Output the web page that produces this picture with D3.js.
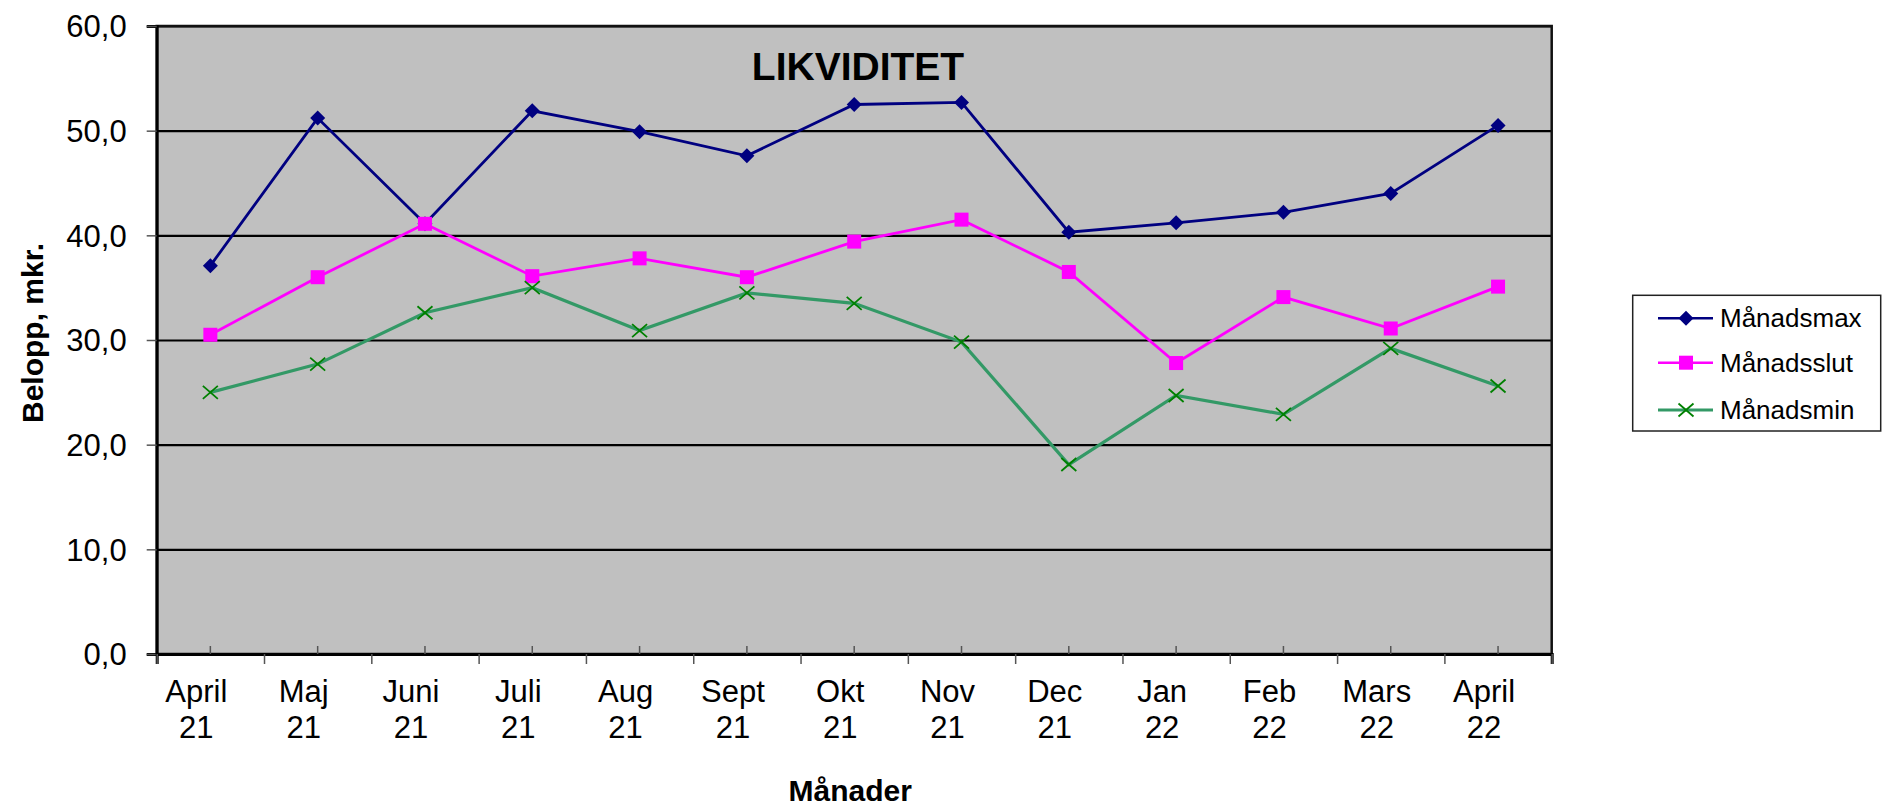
<!DOCTYPE html>
<html>
<head>
<meta charset="utf-8">
<script src="https://cdn.jsdelivr.net/npm/d3@7"></script>
<style>
  body { margin: 0; background: #fff; }
  svg { display: block; font-family: "Liberation Sans", Arial, sans-serif; }
  .tick-label { font-size: 31px; fill: #000; }
  .axis-title { font-size: 30px; font-weight: bold; fill: #000; }
  .legend-text { font-size: 26px; fill: #000; }
</style>
</head>
<body>
<svg id="chart"></svg>
<script>
// Data
const months = ['April 21', 'Maj 21', 'Juni 21', 'Juli 21', 'Aug 21', 'Sept 21', 'Okt 21',
  'Nov 21', 'Dec 21', 'Jan 22', 'Feb 22', 'Mars 22', 'April 22'];
const manadsmax = [37.1, 51.2, 41.1, 51.9, 49.9, 47.6, 52.5, 52.7, 40.3, 41.2, 42.2, 44.0, 50.5];
const manadsslut = [30.5, 36.0, 41.1, 36.1, 37.8, 36.0, 39.4, 41.5, 36.5, 27.8, 34.1, 31.1, 35.1];
const manadsmin = [25.0, 27.7, 32.6, 35.0, 30.9, 34.5, 33.5, 29.8, 18.1, 24.7, 22.9, 29.2, 25.6];
const yTicks = [0, 10, 20, 30, 40, 50, 60];

const series = [
  { name: 'Månadsmax', values: manadsmax, line: '#000080', marker: 'diamond', mcolor: '#000080' },
  { name: 'Månadsslut', values: manadsslut, line: '#FF00FF', marker: 'square', mcolor: '#FF00FF' },
  { name: 'Månadsmin', values: manadsmin, line: '#339966', marker: 'cross', mcolor: '#008000' }
];

const config = {
  width: 1882,
  height: 806,
  plot: { left: 156.7, right: 1551.7, top: 26, bottom: 654 }
};

const svg = d3.select('#chart')
    .attr('width', config.width)
    .attr('height', config.height);

const p = config.plot;

const x = d3.scaleBand()
    .domain(months)
    .range([p.left, p.right]);

const xEdges = d3.scaleLinear()
    .domain([0, months.length])
    .range([p.left, p.right]);

const y = d3.scaleLinear()
    .domain([0, 60])
    .range([p.bottom, p.top]);

// plot background
svg.append('rect')
    .attr('x', p.left)
    .attr('y', p.top)
    .attr('width', p.right - p.left)
    .attr('height', p.bottom - p.top)
    .attr('fill', '#C0C0C0');

// grid lines
svg.append('g')
    .attr('transform', `translate(${p.left},0)`)
    .call(d3.axisLeft(y).tickValues(yTicks).tickSize(-(p.right - p.left)).tickFormat(''))
    .call(g => g.select('.domain').remove())
    .selectAll('line')
    .attr('stroke', '#000')
    .attr('stroke-width', 2.2);

// plot frame
svg.append('rect')
    .attr('x', p.left)
    .attr('y', p.top)
    .attr('width', p.right - p.left)
    .attr('height', p.bottom - p.top)
    .attr('fill', 'none')
    .attr('stroke', '#111')
    .attr('stroke-width', 2.5);

// y axis
const fmt = d => d3.format('.1f')(d).replace('.', ',');
svg.append('g')
    .attr('transform', `translate(${p.left},0)`)
    .call(d3.axisLeft(y).tickValues(yTicks).tickSize(10).tickPadding(20).tickFormat(fmt))
    .call(g => g.select('.domain').attr('stroke', '#000').attr('stroke-width', 3))
    .call(g => g.selectAll('line').attr('stroke', '#555').attr('stroke-width', 1.5))
    .call(g => g.selectAll('text')
        .attr('class', 'tick-label')
        .attr('font-family', null)
        .attr('dy', '0.35em'));

// x axis: outside ticks on category edges
svg.append('g')
    .attr('transform', `translate(0,${p.bottom})`)
    .call(d3.axisBottom(xEdges).ticks(months.length).tickSize(10).tickFormat(''))
    .call(g => g.select('.domain').attr('stroke', '#000').attr('stroke-width', 3))
    .call(g => g.selectAll('line').attr('stroke', '#555').attr('stroke-width', 1.5));

// x axis: inside ticks at category centres
svg.append('g')
    .attr('transform', `translate(0,${p.bottom})`)
    .call(d3.axisBottom(x).tickSize(-8).tickFormat(''))
    .call(g => g.select('.domain').remove())
    .call(g => g.selectAll('line').attr('stroke', '#555').attr('stroke-width', 1.5));

// x labels, two rows
const xLabels = svg.append('g').selectAll('text')
    .data(months)
    .join('text')
    .attr('class', 'tick-label')
    .attr('text-anchor', 'middle')
    .attr('x', d => x(d) + x.bandwidth() / 2 - 14)
    .attr('y', 702);

xLabels.append('tspan').text(d => d.split(' ')[0]);
xLabels.append('tspan')
    .attr('x', d => x(d) + x.bandwidth() / 2 - 14)
    .attr('dy', 35.6)
    .text(d => d.split(' ')[1]);

// axis titles
svg.append('text')
    .attr('class', 'axis-title')
    .attr('text-anchor', 'middle')
    .attr('x', (p.left + p.right) / 2 - 4)
    .attr('y', 801)
    .text('Månader');

svg.append('text')
    .attr('class', 'axis-title')
    .attr('text-anchor', 'middle')
    .attr('transform', 'translate(42.5,333) rotate(-90)')
    .text('Belopp, mkr.');

// chart title
svg.append('text')
    .attr('text-anchor', 'middle')
    .attr('x', 858)
    .attr('y', 80)
    .style('font-size', '39px')
    .style('font-weight', 'bold')
    .text('LIKVIDITET');

// markers
function drawMarker(sel, type, color) {
  if (type === 'diamond') {
    sel.append('path')
        .attr('d', 'M0,-7.5L7.5,0L0,7.5L-7.5,0Z')
        .attr('fill', color);
  } else if (type === 'square') {
    sel.append('rect')
        .attr('x', -7).attr('y', -7)
        .attr('width', 14).attr('height', 14)
        .attr('fill', color);
  } else {
    sel.append('path')
        .attr('d', 'M-7.5,-6.5L7.5,6.5M-7.5,6.5L7.5,-6.5')
        .attr('stroke', color)
        .attr('stroke-width', 1.8)
        .attr('fill', 'none');
  }
}

const line = d3.line()
    .x((d, i) => x(months[i]) + x.bandwidth() / 2)
    .y(d => y(d));

series.forEach(s => {
  svg.append('path')
      .datum(s.values)
      .attr('d', line)
      .attr('fill', 'none')
      .attr('stroke', s.line)
      .attr('stroke-width', s.marker === 'cross' ? 3.2 : 2.8);

  svg.append('g').selectAll('g')
      .data(s.values)
      .join('g')
      .attr('transform', (d, i) => `translate(${x(months[i]) + x.bandwidth() / 2},${y(d)})`)
      .each(function() { drawMarker(d3.select(this), s.marker, s.mcolor); });
});

// legend
const legend = svg.append('g');
legend.append('rect')
    .attr('x', 1632.7)
    .attr('y', 295.3)
    .attr('width', 248)
    .attr('height', 135.7)
    .attr('fill', '#fff')
    .attr('stroke', '#222')
    .attr('stroke-width', 1.5);

const legendRows = [318.3, 362.7, 410];
series.forEach((s, i) => {
  const row = legend.append('g').attr('transform', `translate(0,${legendRows[i]})`);
  row.append('line')
      .attr('x1', 1658).attr('x2', 1713)
      .attr('stroke', s.line)
      .attr('stroke-width', s.marker === 'cross' ? 3 : 2.5);
  drawMarker(row.append('g').attr('transform', 'translate(1686,0)'), s.marker, s.mcolor);
  row.append('text')
      .attr('class', 'legend-text')
      .attr('x', 1720)
      .attr('y', 9)
      .text(s.name);
});
</script>
</body>
</html>
